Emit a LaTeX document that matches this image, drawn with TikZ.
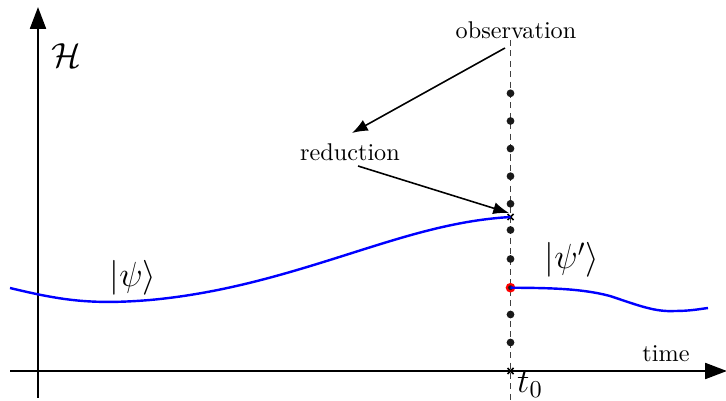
\documentclass[tikz,border=0pt]{standalone}
\usetikzlibrary{arrows.meta}
\begin{document}
\begin{tikzpicture}[x=0.4132pt,y=-0.4132pt,
  axis/.style={line width=1.1pt,-{Triangle[length=9pt,width=6.5pt]}},
  pointer/.style={line width=0.65pt,-{Latex[length=6.5pt,width=5pt]}},
  state/.style={blue,line width=1pt},
  dotmark/.style={circle,fill=black!90,inner sep=0pt,minimum size=3.2pt},
  lbl/.style={inner sep=0pt}]
\useasboundingbox (0,0) rectangle (726,401);
% axes
\coordinate (xs) at (10,371);
\coordinate (xe) at (727,371);
\coordinate (ys) at (38,398);
\coordinate (ye) at (38,7);
\draw[axis] (xs) -- (xe);
\draw[axis] (ys) -- (ye);
% dashed observation line
\coordinate (ds) at (510.5,40);
\coordinate (de) at (510.5,401);
\draw[line width=0.45pt,black!75,dash pattern=on 2.5pt off 1.8pt] (ds) -- (de);
% dots
\foreach \y [count=\i] in {93.3,121,148.6,176.2,203.8,230,259,314.5,342.5}
  \node[dotmark] (d\i) at (510.5,\y) {};
\node[circle,fill=red,inner sep=0pt,minimum size=4pt] (red) at (510.5,287.7) {};
\node[dotmark,minimum size=2pt] at (510.5,287.7) {};
% crosses
\coordinate (cx1) at (510.5,217);
\coordinate (cx2) at (510.5,371);
\draw[line width=0.6pt] ([shift={(-3,-3)}]cx1) -- ([shift={(3,3)}]cx1) ([shift={(-3,3)}]cx1) -- ([shift={(3,-3)}]cx1);
\draw[line width=0.6pt] ([shift={(-3,-3)}]cx2) -- ([shift={(3,3)}]cx2) ([shift={(-3,3)}]cx2) -- ([shift={(3,-3)}]cx2);
% states
\coordinate (p0) at (10,288);
\draw[state] (p0) .. controls (60,300) and (90,305) .. (150,300)
  .. controls (260,290) and (350,250) .. (430,230)
  .. controls (470,220) and (495,218) .. (cx1);
\draw[state] (red.center) .. controls (545,288) and (580,288) .. (610,296)
  .. controls (640,306) and (655,312) .. (675,311)
  .. controls (690,311) and (700,309) .. (708,308);
% labels
\node[lbl] (obs) at (516,30) {observation};
\node[lbl] (red2) at (350,152) {reduction};
\node[lbl] (time) at (666,354) {time};
\node[lbl] (H) at (66,56) {\Large$\mathcal{H}$};
\node[lbl] (psi) at (133,278) {\Large$|\psi\rangle$};
\node[lbl] (psip) at (572,260) {\Large$|\psi'\rangle$};
\node[lbl] (t0) at (530,384) {\Large$t_0$};
% pointers
\coordinate (o1) at (505,48);
\coordinate (o2) at (352,133);
\coordinate (r1) at (358,166);
\coordinate (r2) at (509,213);
\draw[pointer] (o1) -- (o2);
\draw[pointer] (r1) -- (r2);
\end{tikzpicture}
\end{document}
